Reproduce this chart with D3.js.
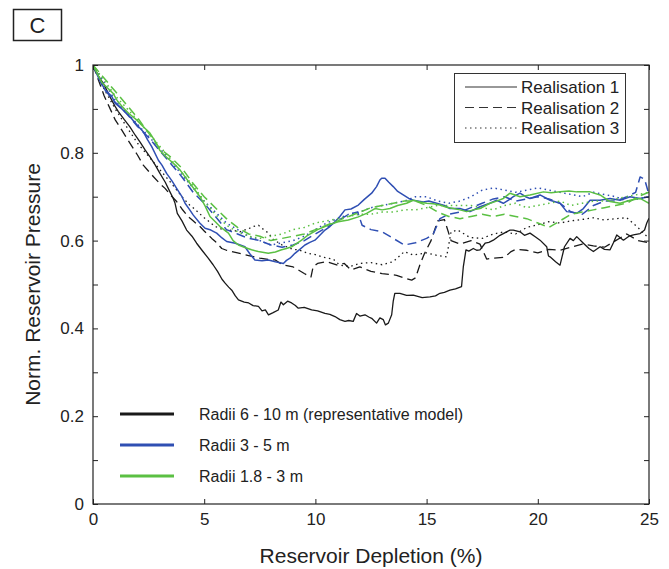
<!DOCTYPE html>
<html>
<head>
<meta charset="utf-8">
<script src="https://cdn.jsdelivr.net/npm/d3@7"></script>
<style>
  body { margin: 0; background: #fff; }
  text { font-family: "Liberation Sans", Arial, sans-serif; fill: #222; }
</style>
</head>
<body>
<div id="chart"></div>
<script>
// depletion (%) vs normalised reservoir pressure
const radii6to10_r1 = [[0,1],[0.25,0.975],[0.5,0.955],[0.76,0.928],[1.0,0.905],[1.14,0.894],[1.4,0.876],[1.66,0.859],[1.9,0.84],[2.11,0.825],[2.35,0.806],[2.56,0.791],[2.8,0.772],[3.01,0.753],[3.25,0.733],[3.46,0.711],[3.6,0.697],[3.69,0.685],[3.79,0.662],[4.0,0.645],[4.21,0.624],[4.45,0.61],[4.66,0.594],[4.9,0.578],[5.18,0.56],[5.4,0.545],[5.6,0.53],[5.8,0.512],[5.94,0.503],[6.1,0.494],[6.24,0.487],[6.4,0.474],[6.54,0.465],[6.8,0.46],[7.0,0.458],[7.2,0.452],[7.44,0.45],[7.6,0.44],[7.75,0.442],[7.89,0.431],[8.1,0.436],[8.33,0.442],[8.45,0.46],[8.56,0.454],[8.75,0.462],[8.93,0.458],[9.1,0.452],[9.23,0.446],[9.5,0.448],[9.83,0.442],[10.1,0.44],[10.43,0.434],[10.65,0.432],[10.88,0.427],[11.1,0.42],[11.33,0.416],[11.5,0.418],[11.7,0.416],[11.85,0.434],[12.0,0.428],[12.23,0.431],[12.4,0.426],[12.53,0.423],[12.75,0.412],[12.9,0.424],[13.05,0.42],[13.15,0.408],[13.28,0.412],[13.43,0.431],[13.5,0.462],[13.57,0.48],[13.8,0.48],[14.1,0.475],[14.4,0.476],[14.8,0.47],[15.15,0.472],[15.4,0.474],[15.6,0.48],[15.8,0.482],[16.05,0.487],[16.3,0.49],[16.57,0.495],[16.65,0.54],[16.77,0.579],[16.9,0.576],[17.1,0.582],[17.25,0.578],[17.4,0.579],[17.63,0.594],[17.8,0.596],[18.0,0.601],[18.3,0.612],[18.6,0.62],[18.75,0.624],[18.9,0.624],[19.2,0.62],[19.4,0.612],[19.65,0.617],[19.9,0.608],[20.1,0.601],[20.4,0.586],[20.48,0.565],[20.55,0.563],[20.8,0.552],[21.0,0.544],[21.1,0.565],[21.2,0.586],[21.45,0.605],[21.6,0.6],[21.75,0.609],[22.05,0.594],[22.3,0.582],[22.5,0.575],[22.8,0.586],[23.0,0.58],[23.25,0.579],[23.4,0.595],[23.55,0.613],[23.85,0.601],[24.1,0.61],[24.3,0.613],[24.6,0.616],[24.8,0.624],[24.9,0.64],[25,0.651]];
const radii6to10_r2 = [[0,1],[0.5,0.93],[1,0.875],[1.29,0.852],[1.5,0.835],[1.81,0.81],[2,0.795],[2.26,0.772],[2.5,0.758],[2.71,0.746],[3,0.73],[3.24,0.719],[3.5,0.703],[3.76,0.689],[4,0.672],[4.29,0.654],[4.5,0.645],[4.81,0.632],[5,0.622],[5.34,0.605],[5.5,0.598],[5.79,0.582],[6,0.578],[6.5,0.572],[7,0.566],[7.5,0.56],[8,0.556],[8.2,0.556],[8.5,0.545],[9,0.54],[9.5,0.525],[9.8,0.517],[9.9,0.541],[10.1,0.548],[10.5,0.552],[11,0.544],[11.3,0.548],[11.6,0.533],[12,0.54],[12.5,0.53],[13,0.525],[13.65,0.521],[14,0.515],[14.33,0.51],[14.5,0.515],[14.7,0.545],[14.9,0.57],[15.2,0.6],[15.5,0.645],[15.8,0.648],[16.1,0.6],[16.5,0.592],[17,0.6],[17.4,0.592],[17.7,0.558],[18,0.56],[18.5,0.562],[18.8,0.575],[19,0.58],[19.5,0.578],[20,0.572],[20.5,0.58],[21,0.578],[21.5,0.585],[22,0.592],[22.5,0.588],[23,0.585],[23.5,0.6],[24,0.615],[24.5,0.6],[25,0.595]];
const radii6to10_r3 = [[0,1],[0.5,0.945],[1,0.9],[1.5,0.86],[2,0.822],[2.5,0.792],[3,0.762],[3.5,0.732],[4,0.7],[4.36,0.68],[4.5,0.675],[5,0.652],[5.5,0.632],[6,0.622],[6.24,0.624],[6.6,0.62],[6.99,0.627],[7.2,0.632],[7.44,0.635],[7.6,0.628],[7.89,0.617],[8.1,0.603],[8.5,0.59],[9,0.58],[9.23,0.579],[9.68,0.571],[10,0.568],[10.36,0.562],[10.8,0.558],[11.1,0.544],[11.55,0.541],[12,0.548],[12.5,0.55],[13,0.545],[13.5,0.552],[14,0.575],[14.4,0.567],[15,0.572],[15.5,0.566],[15.9,0.563],[16.1,0.62],[16.4,0.624],[16.95,0.607],[17.5,0.605],[18,0.615],[18.5,0.62],[19,0.615],[19.5,0.63],[20,0.636],[20.5,0.643],[21,0.64],[21.5,0.645],[22,0.648],[22.5,0.652],[23,0.647],[23.5,0.65],[24,0.652],[24.5,0.63],[25,0.605]];

const radii3to5_r1 = [[0,1],[0.3,0.965],[0.55,0.943],[0.85,0.928],[0.99,0.913],[1.3,0.9],[1.66,0.882],[2,0.862],[2.26,0.848],[2.45,0.83],[2.64,0.814],[2.94,0.783],[3.1,0.772],[3.31,0.753],[3.55,0.736],[3.76,0.719],[4.0,0.7],[4.14,0.685],[4.35,0.67],[4.51,0.658],[4.8,0.64],[5.04,0.628],[5.3,0.624],[5.56,0.617],[5.8,0.606],[6.01,0.598],[6.4,0.594],[6.83,0.586],[7.05,0.57],[7.28,0.556],[7.6,0.554],[7.88,0.556],[8.2,0.552],[8.56,0.548],[8.7,0.555],[8.86,0.56],[9.08,0.571],[9.3,0.58],[9.53,0.59],[9.75,0.596],[9.98,0.601],[10.2,0.612],[10.43,0.624],[10.65,0.632],[10.88,0.643],[11.1,0.655],[11.33,0.67],[11.6,0.672],[11.93,0.681],[12.2,0.694],[12.53,0.708],[12.75,0.723],[12.9,0.738],[12.98,0.742],[13.13,0.742],[13.3,0.733],[13.5,0.723],[13.7,0.712],[13.95,0.704],[14.2,0.696],[14.4,0.692],[14.85,0.688],[15.1,0.69],[15.45,0.685],[15.8,0.68],[16.05,0.673],[16.5,0.673],[16.95,0.666],[17.2,0.672],[17.4,0.677],[17.85,0.685],[18.15,0.692],[18.45,0.685],[18.7,0.693],[18.9,0.7],[19.2,0.708],[19.45,0.7],[19.65,0.696],[20.1,0.704],[20.55,0.692],[21,0.685],[21.3,0.666],[21.5,0.665],[21.75,0.662],[22.05,0.673],[22.35,0.692],[22.8,0.692],[23.25,0.696],[23.7,0.692],[24.15,0.7],[24.6,0.696],[25,0.7]];
const radii3to5_r2 = [[0,1],[0.5,0.945],[1,0.915],[1.5,0.89],[2,0.86],[2.5,0.835],[3,0.805],[3.5,0.775],[4,0.745],[4.5,0.71],[5,0.685],[5.5,0.655],[6,0.625],[6.5,0.615],[7,0.605],[7.5,0.6],[8,0.59],[8.5,0.585],[9,0.59],[9.5,0.6],[10,0.615],[10.5,0.63],[11,0.645],[11.5,0.66],[11.9,0.665],[12.1,0.635],[12.5,0.625],[13,0.62],[13.5,0.605],[14,0.59],[14.5,0.595],[15,0.605],[15.3,0.615],[15.6,0.65],[16,0.66],[16.5,0.665],[17,0.675],[17.5,0.685],[18,0.695],[18.5,0.7],[19,0.69],[19.5,0.695],[20,0.7],[20.5,0.695],[21,0.685],[21.5,0.665],[22,0.66],[22.5,0.68],[23,0.69],[23.5,0.69],[24,0.7],[24.4,0.71],[24.6,0.745],[24.8,0.74],[25,0.705]];
const radii3to5_r3 = [[0,1],[1,0.92],[2,0.865],[3,0.81],[4,0.75],[4.5,0.72],[5,0.69],[5.5,0.665],[6,0.64],[6.5,0.625],[7,0.61],[7.5,0.6],[8,0.59],[8.5,0.595],[9,0.6],[9.5,0.61],[10,0.625],[10.5,0.64],[11,0.65],[11.5,0.66],[12,0.665],[12.5,0.675],[13,0.68],[13.5,0.685],[14,0.69],[14.5,0.7],[15,0.7],[15.5,0.69],[16,0.685],[16.5,0.69],[17,0.7],[17.5,0.715],[18,0.72],[18.5,0.715],[19,0.71],[19.5,0.715],[20,0.72],[20.5,0.715],[21,0.71],[21.5,0.705],[22,0.7],[22.5,0.71],[23,0.705],[23.5,0.7],[24,0.69],[24.5,0.695],[25,0.7]];

const radii18to3_r1 = [[0,1],[0.4,0.96],[0.91,0.935],[1.1,0.918],[1.32,0.905],[1.6,0.89],[1.96,0.875],[2.25,0.86],[2.56,0.845],[2.8,0.826],[3.0,0.806],[3.2,0.795],[3.46,0.783],[3.7,0.772],[3.91,0.761],[4.1,0.748],[4.36,0.73],[4.6,0.714],[4.81,0.7],[5.05,0.678],[5.26,0.655],[5.5,0.643],[5.71,0.632],[6.09,0.617],[6.3,0.6],[6.54,0.59],[6.8,0.585],[7.13,0.579],[7.43,0.575],[7.88,0.571],[8.2,0.574],[8.48,0.579],[8.7,0.582],[8.93,0.586],[9.15,0.593],[9.38,0.601],[9.6,0.61],[9.83,0.617],[10.1,0.625],[10.43,0.632],[10.7,0.638],[11.03,0.643],[11.48,0.647],[11.93,0.654],[12.3,0.662],[12.68,0.673],[13.0,0.67],[13.35,0.673],[13.7,0.68],[14.1,0.685],[14.4,0.692],[14.7,0.688],[15.0,0.685],[15.3,0.684],[15.6,0.681],[15.9,0.676],[16.2,0.673],[16.5,0.67],[16.8,0.666],[17.1,0.67],[17.4,0.673],[17.85,0.685],[18.15,0.69],[18.45,0.696],[18.75,0.708],[19.2,0.7],[19.65,0.704],[20.25,0.711],[20.6,0.709],[21.0,0.711],[21.4,0.713],[21.75,0.711],[22.35,0.711],[22.8,0.704],[23.25,0.689],[23.7,0.685],[24.15,0.692],[24.6,0.696],[25,0.685]];
const radii18to3_r2 = [[0,1],[1,0.94],[2,0.88],[3,0.81],[3.5,0.79],[4,0.765],[4.5,0.73],[5,0.7],[5.5,0.675],[6,0.65],[6.5,0.63],[7,0.615],[7.5,0.61],[8,0.6],[8.5,0.605],[9,0.61],[9.5,0.615],[10,0.625],[10.5,0.635],[11,0.645],[11.5,0.655],[12,0.665],[12.5,0.675],[13,0.68],[13.5,0.685],[14,0.69],[14.5,0.69],[15,0.68],[15.5,0.665],[16,0.655],[16.5,0.65],[17,0.655],[17.5,0.66],[18,0.655],[18.5,0.66],[19,0.655],[19.5,0.65],[20,0.64],[20.5,0.63],[21,0.645],[21.5,0.66],[22,0.665],[22.5,0.67],[23,0.675],[23.5,0.68],[24,0.685],[24.5,0.7],[25,0.71]];
const radii18to3_r3 = [[0,1],[1,0.93],[2,0.875],[3,0.815],[4,0.755],[4.5,0.725],[5,0.69],[5.5,0.66],[6,0.635],[6.5,0.62],[7,0.61],[7.5,0.605],[8,0.61],[8.5,0.615],[9,0.625],[9.5,0.63],[10,0.64],[10.5,0.645],[11,0.65],[11.5,0.655],[12,0.66],[12.5,0.66],[13,0.665],[13.5,0.665],[14,0.67],[14.5,0.67],[15,0.675],[15.5,0.68],[16,0.68],[16.5,0.68],[17,0.68],[17.5,0.675],[18,0.67],[18.5,0.68],[19,0.685],[19.5,0.675],[20,0.68],[20.5,0.685],[21,0.69],[21.5,0.68],[22,0.685],[22.5,0.69],[23,0.69],[23.5,0.695],[24,0.7],[24.5,0.705],[25,0.71]];

const groups = ["Radii 6 - 10 m (representative model)", "Radii 3 - 5 m", "Radii 1.8 - 3 m"];
const groupColors = ["#1a1a1a", "#2f4fb3", "#5bc043"];
const realisations = ["Realisation 1", "Realisation 2", "Realisation 3"];
const dashes = [null, "9,5", "1.5,3.5"];
const xTicks = [0, 5, 10, 15, 20, 25];
const yTicks = [0, 0.1, 0.2, 0.3, 0.4, 0.5, 0.6, 0.7, 0.8, 0.9, 1];

const seriesData = [
  [radii6to10_r1, radii6to10_r2, radii6to10_r3],
  [radii3to5_r1, radii3to5_r2, radii3to5_r3],
  [radii18to3_r1, radii18to3_r2, radii18to3_r3]
];

const width = 669, height = 569;
const margin = {left: 93, right: 20, top: 65, bottom: 65};

const svg = d3.select("#chart").append("svg")
  .attr("width", width)
  .attr("height", height);

svg.append("rect").attr("width", width).attr("height", height).attr("fill", "#fff");

const x = d3.scaleLinear().domain([0, 25]).range([margin.left, width - margin.right]);
const y = d3.scaleLinear().domain([0, 1]).range([height - margin.bottom, margin.top]);

svg.append("clipPath").attr("id", "plotclip")
  .append("rect")
  .attr("x", x(0)).attr("y", y(1))
  .attr("width", x(25) - x(0)).attr("height", y(0) - y(1));

const line = d3.line().x(d => x(d[0])).y(d => y(d[1]));

// black first, then blue, green on top
const plot = svg.append("g").attr("clip-path", "url(#plotclip)");
seriesData.forEach((grp, gi) => {
  grp.forEach((s, ri) => {
    plot.append("path")
      .datum(s)
      .attr("fill", "none")
      .attr("stroke", groupColors[gi])
      .attr("stroke-width", gi == 0 ? 1.3 : 1.5)
      .attr("stroke-dasharray", dashes[ri])
      .attr("stroke-linejoin", "round")
      .attr("d", line);
  });
});

// axes
const fmtY = d => (Math.round(d * 10) % 2 == 0) ? d3.format("~g")(d) : "";
const axisStyle = g => {
  g.select(".domain").remove();
  g.selectAll("line").attr("stroke", "#222");
  g.selectAll("text").attr("font-size", 17).attr("fill", "#222")
    .style("font-family", "'Liberation Sans', Arial, sans-serif");
};

svg.append("g")
  .attr("transform", `translate(0,${y(0)})`)
  .call(d3.axisBottom(x).tickValues(xTicks).tickSizeInner(-5).tickSizeOuter(0).tickPadding(9).tickFormat(d3.format("d")))
  .call(axisStyle);
svg.append("g")
  .attr("transform", `translate(0,${y(1)})`)
  .call(d3.axisTop(x).tickValues(xTicks).tickSizeInner(-5).tickSizeOuter(0).tickFormat(""))
  .call(axisStyle);
svg.append("g")
  .attr("transform", `translate(${x(0)},0)`)
  .call(d3.axisLeft(y).tickValues(yTicks).tickSizeInner(-5).tickSizeOuter(0).tickPadding(9).tickFormat(fmtY))
  .call(axisStyle);
svg.append("g")
  .attr("transform", `translate(${x(25)},0)`)
  .call(d3.axisRight(y).tickValues(yTicks).tickSizeInner(-5).tickSizeOuter(0).tickFormat(""))
  .call(axisStyle);

svg.append("rect")
  .attr("x", x(0)).attr("y", y(1))
  .attr("width", x(25) - x(0)).attr("height", y(0) - y(1))
  .attr("fill", "none").attr("stroke", "#222").attr("stroke-width", 1.2);

// axis titles
svg.append("text")
  .attr("x", (x(0) + x(25)) / 2).attr("y", 563)
  .attr("text-anchor", "middle").attr("font-size", 21)
  .text("Reservoir Depletion (%)");
svg.append("text")
  .attr("transform", `translate(40,${(y(0) + y(1)) / 2}) rotate(-90)`)
  .attr("text-anchor", "middle").attr("font-size", 21)
  .text("Norm. Reservoir Pressure");

// panel label
svg.append("rect").attr("x", 13.5).attr("y", 9.5).attr("width", 48).attr("height", 31)
  .attr("fill", "none").attr("stroke", "#222").attr("stroke-width", 1.5);
svg.append("text").attr("x", 37.5).attr("y", 33).attr("text-anchor", "middle")
  .attr("font-size", 22).text("C");

// realisation legend (line styles)
const leg1 = svg.append("g");
leg1.append("rect").attr("x", 454.5).attr("y", 73.5).attr("width", 171).attr("height", 69)
  .attr("fill", "#fff").attr("stroke", "#333").attr("stroke-width", 1);
realisations.forEach((r, i) => {
  const ly = 87 + i * 20.5;
  leg1.append("line").attr("x1", 465).attr("x2", 517).attr("y1", ly).attr("y2", ly)
    .attr("stroke", "#333").attr("stroke-width", 1.2).attr("stroke-dasharray", dashes[i]);
  leg1.append("text").attr("x", 521).attr("y", ly + 6).attr("font-size", 17).text(r);
});

// radii legend (colours)
const leg2 = svg.append("g");
groups.forEach((g, i) => {
  const ly = 414 + i * 31;
  leg2.append("line").attr("x1", 120).attr("x2", 174).attr("y1", ly).attr("y2", ly)
    .attr("stroke", groupColors[i]).attr("stroke-width", 3);
  leg2.append("text").attr("x", 199).attr("y", ly + 5.5).attr("font-size", 16).text(g);
});
</script>
</body>
</html>
